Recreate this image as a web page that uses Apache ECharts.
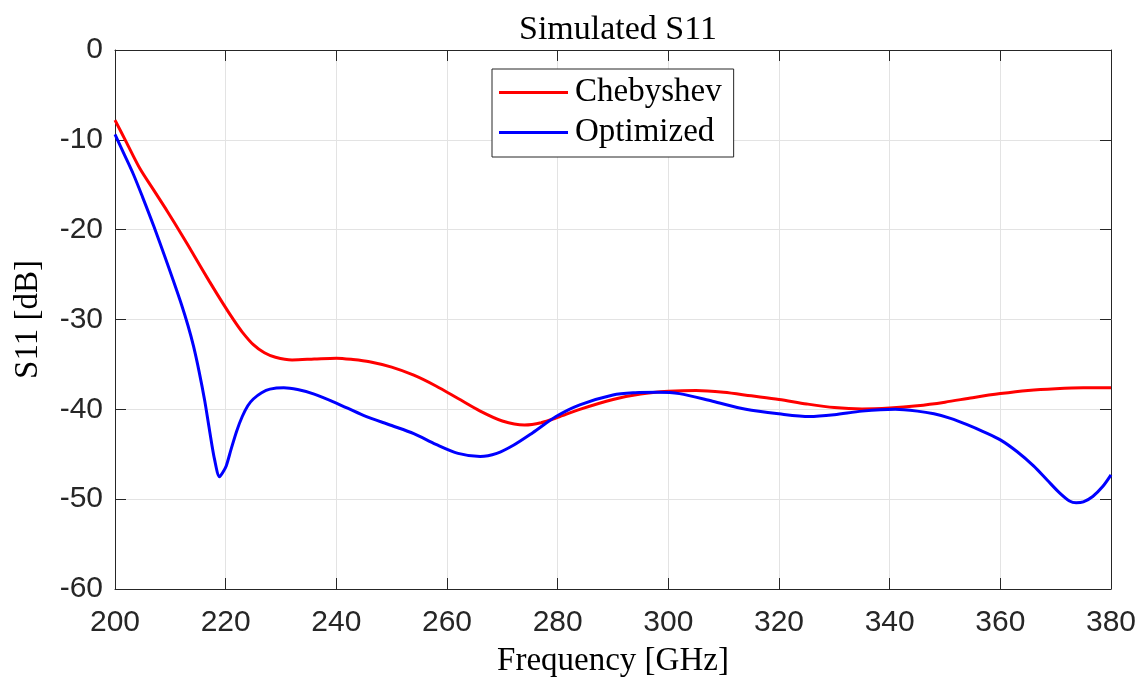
<!DOCTYPE html>
<html>
<head>
<meta charset="utf-8">
<title>Simulated S11</title>
<script src="https://cdn.jsdelivr.net/npm/echarts@6/dist/echarts.min.js"></script>
<style>
  html, body { margin: 0; padding: 0; background: #fff; }
  #chart { width: 1141px; height: 677px; }
</style>
</head>
<body>
<div id="chart"></div>
<script>
// Frequency axis ticks [GHz] and level ticks [dB]
const freqTicks = [200, 220, 240, 260, 280, 300, 320, 340, 360, 380];
const dbTicks = [-60, -50, -40, -30, -20, -10, 0];

// Chebyshev design: frequency [GHz] and S11 [dB]
const chebFreq = [200, 202, 204.5, 207, 209.5, 212, 214.5, 217, 219.5, 221.5, 223, 225, 227, 229, 232, 236, 240, 243, 246, 250, 254, 258, 262, 266, 270, 274, 277, 280, 284, 290, 295, 300, 305, 310, 315, 320, 325, 330, 335, 340, 345, 350, 355, 360, 365, 370, 375, 380];
const chebS11 = [-7.8, -10.2, -13.2, -15.6, -18.0, -20.5, -23.1, -25.7, -28.2, -30.1, -31.4, -32.8, -33.7, -34.2, -34.5, -34.4, -34.3, -34.45, -34.7, -35.3, -36.2, -37.4, -38.8, -40.2, -41.3, -41.75, -41.5, -40.9, -40.0, -38.9, -38.3, -38.0, -37.9, -38.1, -38.5, -38.9, -39.4, -39.8, -39.95, -39.85, -39.6, -39.2, -38.7, -38.25, -37.9, -37.7, -37.6, -37.6];

// Optimized design: frequency [GHz] and S11 [dB]
const optFreq = [200, 201.5, 203.3, 205, 207, 209, 210.5, 212, 213.2, 214.2, 215.2, 216.2, 217.1, 218, 218.9, 219.5, 220.1, 221, 222, 223, 224, 225, 226.5, 228, 230.5, 233, 236, 240, 245, 250, 254, 258, 262, 266, 269, 272, 275.5, 279.7, 284, 290, 294, 298, 302, 308, 314, 320, 325.5, 330, 335, 341, 345, 348, 351, 354, 357, 360, 363, 366, 368.5, 370.7, 372.5, 373.7, 375, 376.7, 378.5, 380];
const optS11 = [-9.4, -11.4, -13.8, -16.4, -19.6, -23.0, -25.6, -28.3, -30.7, -33.0, -35.8, -39.0, -42.4, -45.6, -47.5, -47.0, -46.3, -44.4, -42.4, -40.8, -39.6, -38.85, -38.15, -37.75, -37.6, -37.8, -38.3, -39.3, -40.7, -41.8, -42.7, -43.9, -44.9, -45.25, -44.9, -44.0, -42.6, -40.8, -39.5, -38.4, -38.15, -38.1, -38.25, -39.1, -40.0, -40.5, -40.8, -40.6, -40.2, -40.0, -40.2, -40.5, -41.0, -41.7, -42.5, -43.4, -44.7, -46.3, -47.9, -49.3, -50.2, -50.4, -50.3, -49.7, -48.6, -47.3];

const seriesNames = ['Chebyshev', 'Optimized'];
const seriesColors = ['#ff0000', '#0000ff'];

const pair = (xs, ys) => xs.map((x, i) => [x, ys[i]]);

const serif = '"Liberation Serif", "DejaVu Serif", serif';
const sans = '"Liberation Sans", Arial, sans-serif';
const axisColor = '#262626';
const gridColor = '#e3e3e3';

const xMin = freqTicks[0], xMax = freqTicks[freqTicks.length - 1];
const yMin = dbTicks[0], yMax = dbTicks[dbTicks.length - 1];
const xStep = freqTicks[1] - freqTicks[0];
const yStep = dbTicks[1] - dbTicks[0];

const chart = echarts.init(document.getElementById('chart'), null, { renderer: 'canvas' });

const tickStyle = { show: true, inside: true, length: 11, lineStyle: { color: axisColor, width: 1 } };

chart.setOption({
  animation: false,
  backgroundColor: '#ffffff',
  title: {
    text: 'Simulated S11',
    left: 613,
    top: 8,
    textAlign: 'center',
    textStyle: { fontFamily: serif, fontSize: 34, fontWeight: 'normal', color: '#000' }
  },
  grid: { left: 115, right: 30, top: 50, bottom: 88, containLabel: false, outerBoundsMode: 'none' },
  legend: {
    data: seriesNames,
    orient: 'vertical',
    left: 492,
    top: 69,
    padding: [7, 12, 8, 7],
    itemGap: 7,
    itemWidth: 69,
    itemHeight: 3,
    icon: 'rect',
    backgroundColor: '#ffffff',
    borderColor: axisColor,
    borderWidth: 1,
    borderRadius: 0,
    textStyle: { fontFamily: serif, fontSize: 33, color: '#000', padding: [0, 0, 0, 2] }
  },
  xAxis: [
    {
      type: 'value', min: xMin, max: xMax, interval: xStep,
      name: 'Frequency [GHz]', nameLocation: 'middle', nameGap: 56,
      nameTextStyle: { fontFamily: serif, fontSize: 33, color: '#000' },
      axisLine: { show: true, onZero: false, lineStyle: { color: axisColor, width: 1 } },
      axisTick: tickStyle,
      axisLabel: { fontFamily: sans, fontSize: 30, color: axisColor, margin: 19 },
      splitLine: { show: true, lineStyle: { color: gridColor, width: 1 } }
    },
    {
      type: 'value', min: xMin, max: xMax, interval: xStep, position: 'top',
      axisLine: { show: true, onZero: false, lineStyle: { color: axisColor, width: 1 } },
      axisTick: tickStyle,
      axisLabel: { show: false },
      splitLine: { show: false }
    }
  ],
  yAxis: [
    {
      type: 'value', min: yMin, max: yMax, interval: yStep,
      name: 'S11 [dB]', nameLocation: 'middle', nameGap: 70, nameRotate: 90,
      nameTextStyle: { fontFamily: serif, fontSize: 33, color: '#000' },
      axisLine: { show: true, onZero: false, lineStyle: { color: axisColor, width: 1 } },
      axisTick: tickStyle,
      axisLabel: { fontFamily: sans, fontSize: 30, color: axisColor, margin: 12 },
      splitLine: { show: true, lineStyle: { color: gridColor, width: 1 } }
    },
    {
      type: 'value', min: yMin, max: yMax, interval: yStep, position: 'right',
      axisLine: { show: true, onZero: false, lineStyle: { color: axisColor, width: 1 } },
      axisTick: tickStyle,
      axisLabel: { show: false },
      splitLine: { show: false }
    }
  ],
  series: [
    {
      name: seriesNames[0], type: 'line', xAxisIndex: 0, yAxisIndex: 0,
      data: pair(chebFreq, chebS11),
      showSymbol: false, symbol: 'none', smooth: 0.3,
      lineStyle: { color: seriesColors[0], width: 3 },
      itemStyle: { color: seriesColors[0] },
      z: 3
    },
    {
      name: seriesNames[1], type: 'line', xAxisIndex: 0, yAxisIndex: 0,
      data: pair(optFreq, optS11),
      showSymbol: false, symbol: 'none', smooth: 0.3,
      lineStyle: { color: seriesColors[1], width: 3 },
      itemStyle: { color: seriesColors[1] },
      z: 4
    }
  ]
});
</script>
</body>
</html>
